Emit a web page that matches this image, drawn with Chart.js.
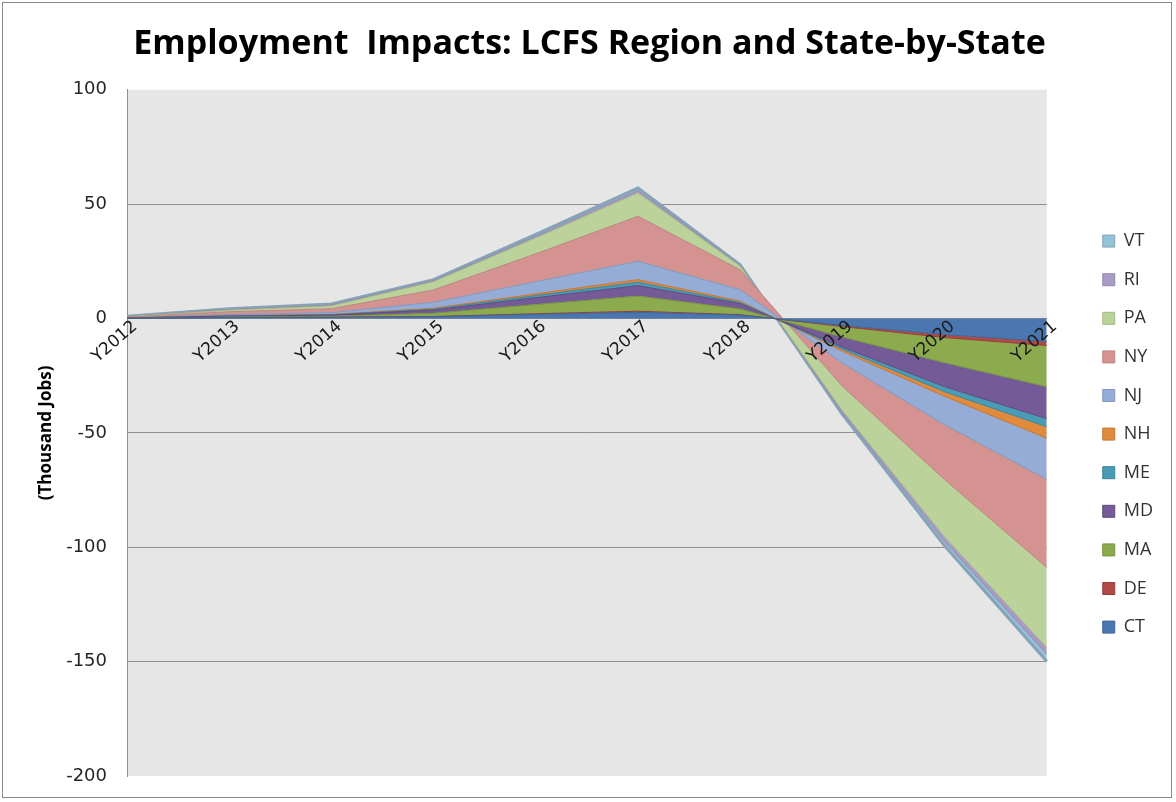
<!DOCTYPE html>
<html>
<head>
<meta charset="utf-8">
<title>Employment Impacts</title>
<script src="https://cdn.jsdelivr.net/npm/chart.js@4.4.1/dist/chart.umd.min.js"></script>
<style>
  body { margin: 0; background: #ffffff; }
  #chart { position: absolute; left: 0; top: 0; }
  #frame {
    position: absolute; left: 2px; top: 2px; width: 1170px; height: 796px;
    border: 1.5px solid #8a8a8a; box-sizing: border-box; pointer-events: none;
  }
</style>
</head>
<body>
<canvas id="chart" width="1176" height="802"></canvas>
<div id="frame"></div>
<script>
const years = ["Y2012", "Y2013", "Y2014", "Y2015", "Y2016", "Y2017", "Y2018", "Y2019", "Y2020", "Y2021"];

// thousand jobs per state, bottom of the stack first
const CT = [0.1, 0.4, 0.5, 0.8, 1.8, 2.7, 1.5, -3, -7, -10];
const DE = [0, 0.05, 0.1, 0.1, 0.3, 0.5, 0.2, -0.5, -1.3, -1.8];
const MA = [0.05, 0.2, 0.4, 1.4, 4, 6.6, 2.5, -4.6, -11, -18];
const MD = [0.1, 0.4, 0.5, 1.4, 3, 4.6, 2.3, -4.4, -10.5, -14];
const ME = [0.02, 0.1, 0.15, 0.4, 0.95, 1.5, 0.5, -0.9, -2.2, -3.5];
const NH = [0.03, 0.1, 0.15, 0.4, 0.75, 1.1, 0.6, -0.9, -2, -5];
const NJ = [0.1, 0.5, 0.8, 2.6, 5.3, 8, 5, -5.2, -12.4, -18];
const NY = [0.3, 1.2, 1.7, 5.4, 12.2, 19.7, 8.7, -10.1, -24, -38.5];
const PA = [0.15, 0.7, 1.2, 3.6, 6.9, 10.2, 1.6, -10.6, -25, -35];
const RI = [0.07, 0.3, 0.4, 0.4, 0.7, 1, 0.3, -0.85, -2, -3];
const VT = [0.08, 0.35, 0.5, 0.5, 0.85, 1.2, 0.3, -0.85, -2, -3];

const yTicks = [100, 50, 0, -50, -100, -150, -200];

const series = [
  { label: "CT", data: CT, fill: "#4a77b0", line: "#3d6599" },
  { label: "DE", data: DE, fill: "#b04a46", line: "#963d3a" },
  { label: "MA", data: MA, fill: "#8caa4e", line: "#779341" },
  { label: "MD", data: MD, fill: "#745a96", line: "#5f4a7d" },
  { label: "ME", data: ME, fill: "#4a9bb5", line: "#3c849a" },
  { label: "NH", data: NH, fill: "#e08a3e", line: "#c47632" },
  { label: "NJ", data: NJ, fill: "#95add6", line: "#8297bb" },
  { label: "NY", data: NY, fill: "#d49391", line: "#bb8482" },
  { label: "PA", data: PA, fill: "#bcd29b", line: "#a6ba88" },
  { label: "RI", data: RI, fill: "#a99bc5", line: "#9688ad" },
  { label: "VT", data: VT, fill: "#92c3d6", line: "#86a3b8" }
];

// grey plotting area behind the stacked areas
const plotBackground = {
  id: "plotBackground",
  beforeDraw(chart) {
    const { ctx, chartArea } = chart;
    ctx.save();
    ctx.fillStyle = "#e6e6e6";
    ctx.fillRect(chartArea.left, chartArea.top, chartArea.width, chartArea.height);
    ctx.restore();
  }
};

new Chart(document.getElementById("chart"), {
  type: "line",
  data: {
    labels: years,
    datasets: series.map((s, i) => ({
      label: s.label,
      data: s.data,
      backgroundColor: s.fill,
      borderColor: s.line,
      borderWidth: s.label === "VT" ? 3 : 1,
      pointRadius: 0,
      tension: 0,
      fill: i === 0 ? "origin" : "-1"
    }))
  },
  plugins: [plotBackground],
  options: {
    responsive: false,
    animation: false,
    layout: { padding: { top: 10, right: 13, bottom: 26, left: 16 } },
    plugins: {
      title: {
        display: true,
        text: "Employment  Impacts: LCFS Region and State-by-State",
        color: "#000000",
        font: { family: "Open Sans", size: 34, weight: "bold" },
        padding: { top: 14, bottom: 25 }
      },
      legend: {
        position: "right",
        reverse: true,
        // empty title only pushes the column of keys down
        title: { display: true, text: "", font: { size: 1 }, padding: { top: 81, bottom: 0 } },
        labels: {
          boxWidth: 12,
          boxHeight: 12,
          padding: 20.6,
          color: "#333333",
          font: { family: "Open Sans", size: 18 },
          generateLabels(chart) {
            const items = Chart.defaults.plugins.legend.labels.generateLabels(chart);
            items.forEach((item) => { item.lineWidth = 1; });
            return items;
          }
        }
      },
      tooltip: { enabled: false }
    },
    scales: {
      x: {
        position: { y: 0 },
        offset: false,
        grid: { display: false },
        border: { display: true, color: "#8f8f8f" },
        ticks: {
          z: 1,
          autoSkip: false,
          minRotation: 41,
          maxRotation: 41,
          padding: -10,
          labelOffset: 8,
          color: "#1a1a1a",
          font: { family: "DejaVu Sans", size: 17 }
        }
      },
      y: {
        stacked: true,
        min: yTicks[yTicks.length - 1],
        max: yTicks[0],
        afterBuildTicks(scale) {
          scale.ticks = yTicks.map((v) => ({ value: v }));
        },
        afterFit(scale) { scale.width = 111; },
        grid: {
          tickLength: 18,
          tickColor: "rgba(0,0,0,0)",
          color: (ctx) => (ctx.tick && (ctx.tick.value === 100 || ctx.tick.value === -200)) ? "rgba(0,0,0,0)" : "#8f8f8f"
        },
        border: { display: true, color: "#8f8f8f" },
        ticks: {
          padding: 2,
          color: "#262626",
          font: { family: "DejaVu Sans", size: 18 }
        },
        title: {
          display: true,
          text: "(Thousand Jobs)",
          color: "#000000",
          font: { family: "Open Sans", size: 17, weight: "bold" },
          padding: { top: 20, bottom: 0 }
        }
      },
      gap: {
        type: "linear",
        position: "right",
        grid: { display: false },
        border: { display: false },
        ticks: { display: false },
        afterFit(scale) { scale.width = 35.4; }
      }
    }
  }
});
</script>
</body>
</html>
